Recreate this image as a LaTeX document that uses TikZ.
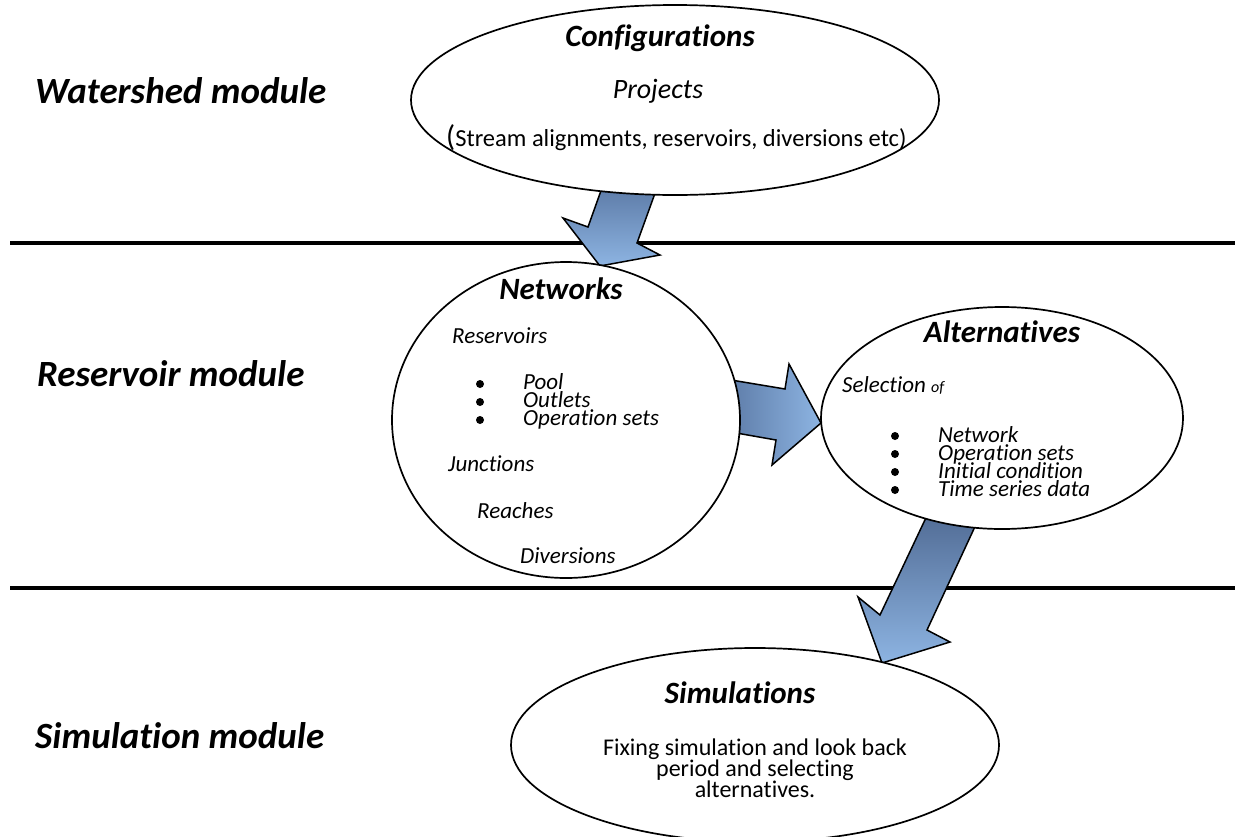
\documentclass[tikz,border=0pt]{standalone}
\usepackage{fontspec}
\setmainfont{Carlito}[Ligatures=NoCommon]
\usetikzlibrary{shapes.geometric}
\definecolor{arrlight}{RGB}{141,180,226}
\definecolor{arrdark}{RGB}{92,122,166}
\definecolor{arrdeep}{RGB}{78,104,145}
\begin{document}
\begin{tikzpicture}[x=1pt,y=-1pt,
  ell/.style={ellipse, draw, line width=1.7pt, fill=white, inner sep=0pt},
  modlabel/.style={anchor=base west, inner sep=0pt, font=\fontsize{37}{40}\selectfont\bfseries\itshape},
  title/.style={anchor=base, inner sep=0pt, font=\fontsize{31}{34}\selectfont\bfseries\itshape},
  item/.style={anchor=base west, inner sep=0pt, font=\fontsize{23}{25}\selectfont\itshape},
  plain/.style={anchor=base, inner sep=0pt, font=\fontsize{24}{26}\selectfont},
  dot/.style={circle, fill=black, inner sep=0pt, minimum size=8pt},
  blockarrow/.style={draw, line width=1.5pt, line join=miter},
  divider/.style={line width=3.5pt}
]
% canvas
\fill[white] (0,0) rectangle (1237,836);
\useasboundingbox (0,0) rectangle (1237,836);

% section dividers
\coordinate (d1a) at (10,243);  \coordinate (d1b) at (1235,243);
\coordinate (d2a) at (10,588);  \coordinate (d2b) at (1235,588);
\draw[divider] (d1a) -- (d1b);
\draw[divider] (d2a) -- (d2b);

% block arrows (their roots are hidden under the ellipses drawn next)
\draw[blockarrow, top color=arrdark, bottom color=arrlight]
  (603,185) -- (658,185) -- (637,243) -- (660,255) -- (600,266)
  -- (563,218) -- (588,227) -- cycle;
\draw[blockarrow, left color=arrdark, right color=arrlight]
  (725,379) -- (785,389) -- (789,364) -- (821,423) -- (772,465)
  -- (776,440) -- (725,431) -- cycle;
\draw[blockarrow, top color=arrdeep, bottom color=arrlight]
  (932,505) -- (985,505) -- (927,630) -- (950,642) -- (882,663)
  -- (858,597) -- (880,615) -- cycle;

% ellipses
\node[ell, minimum width=528pt, minimum height=190pt] (cfg) at (675,100) {};
\node[ell, minimum width=348pt, minimum height=316pt] (net) at (566,420) {};
\node[ell, minimum width=362pt, minimum height=222pt] (alt) at (1002,418) {};
\node[ell, minimum width=488pt, minimum height=194pt] (sim) at (755,745) {};

% module labels
\node[modlabel] (wlab) at (35,103) {Watershed module};
\node[modlabel] (rlab) at (37,386) {Reservoir module};
\node[modlabel] (slab) at (35,748) {Simulation module};

% configurations
\node[title] (cfgT) at (660,46) {Configurations};
\node[plain, font=\fontsize{28}{30}\selectfont\itshape] (proj) at (658,98) {Projects};
\node[plain, anchor=base west, font=\fontsize{24.5}{26}\selectfont] (strm) at (446,146)
  {{\fontsize{30}{30}\selectfont(}Stream alignments, reservoirs, diversions etc)};

% networks
\node[title] (netT) at (561,299) {Networks};
\node[item] (resv) at (452,343) {Reservoirs};
\node[dot] (nb1) at (480,384) {};
\node[dot] (nb2) at (480,402) {};
\node[dot] (nb3) at (480,420) {};
\node[item] (pool) at (523,389) {Pool};
\node[item] (outl) at (523,407) {Outlets};
\node[item] (opss) at (523,425) {Operation sets};
\node[item] (junc) at (448,471) {Junctions};
\node[item] (reac) at (477,518) {Reaches};
\node[item] (dive) at (520,563) {Diversions};

% alternatives
\node[title] (altT) at (1002,342) {Alternatives};
\node[item] (sel) at (842,392) {Selection {\fontsize{16}{18}\selectfont of}};
\node[dot] (ab1) at (895,436) {};
\node[dot] (ab2) at (895,454) {};
\node[dot] (ab3) at (895,472) {};
\node[dot] (ab4) at (895,490) {};
\node[item] (anet) at (938,442) {Network};
\node[item] (aops) at (938,460) {Operation sets};
\node[item] (aini) at (938,478) {Initial condition};
\node[item] (atim) at (938,496) {Time series data};

% simulations
\node[title] (simT) at (740,703) {Simulations};
\node[plain] (sim1) at (755,755) {Fixing simulation and look back};
\node[plain] (sim2) at (755,776) {period and selecting};
\node[plain] (sim3) at (755,797) {alternatives.};
\end{tikzpicture}
\end{document}
